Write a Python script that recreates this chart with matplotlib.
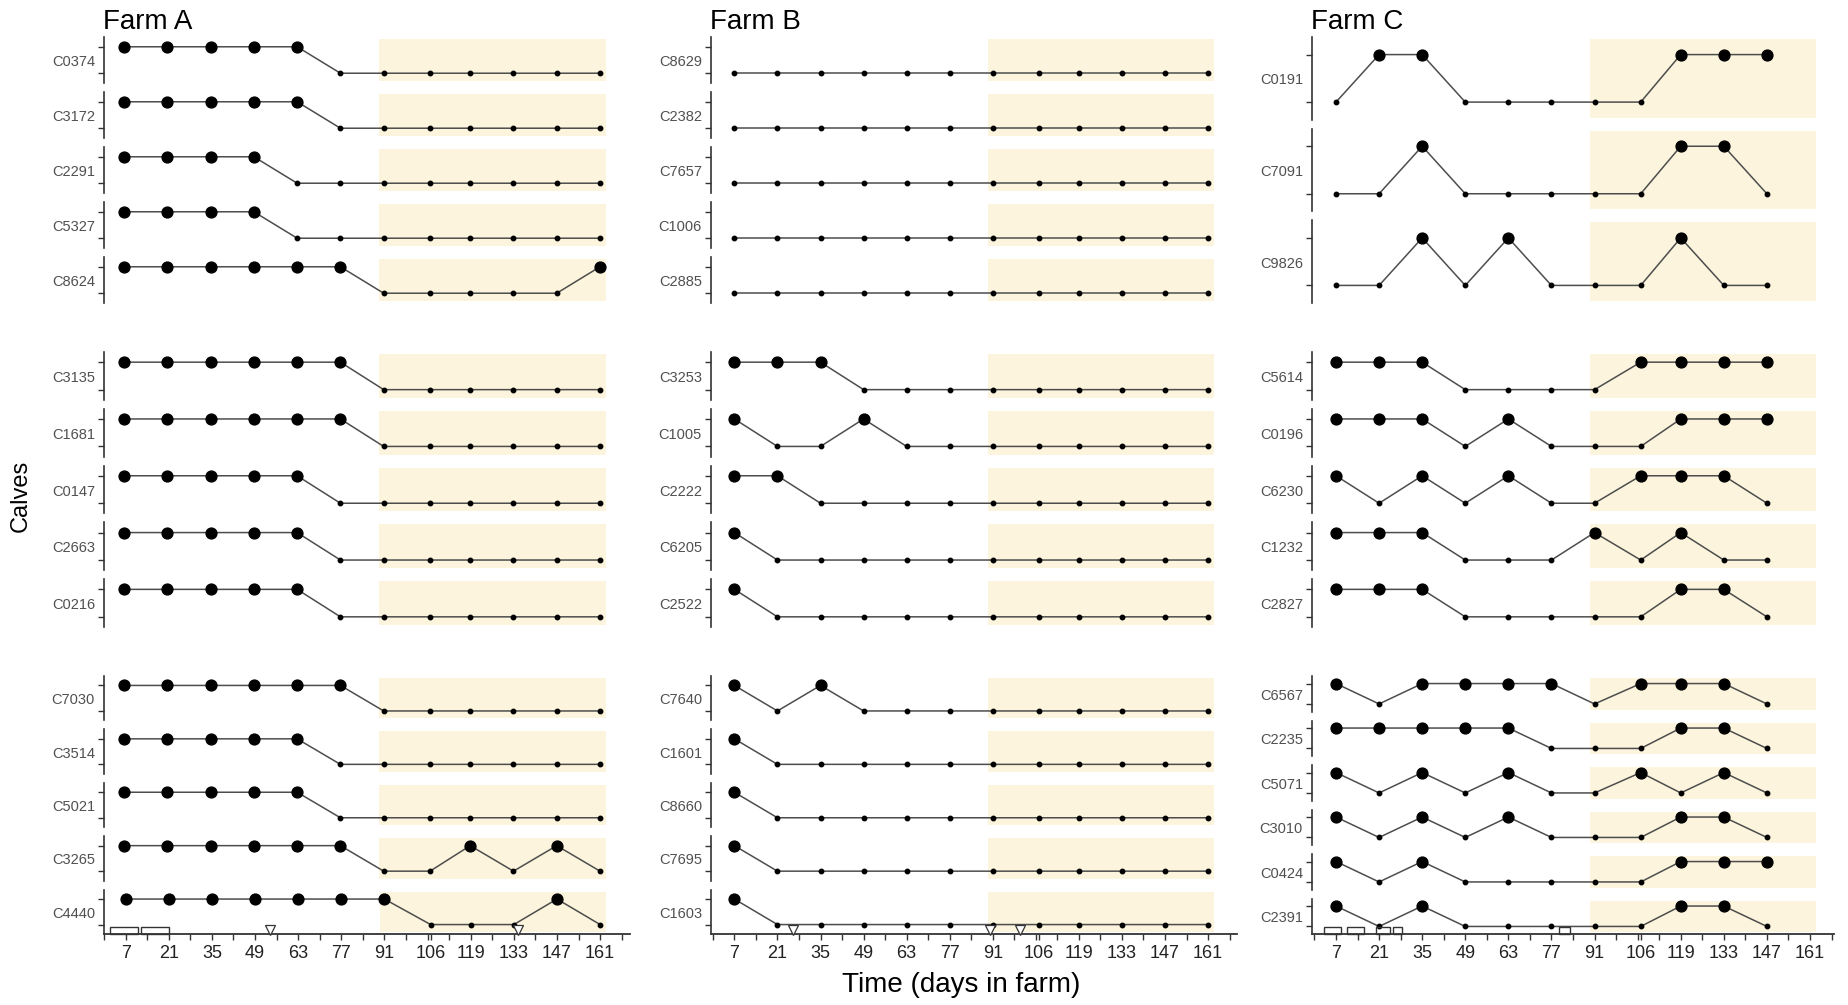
import numpy as np
import matplotlib
matplotlib.use("Agg")
import matplotlib.pyplot as plt
from matplotlib.transforms import blended_transform_factory, offset_copy
from matplotlib.patches import Rectangle

# ---------------- data ----------------
DAYS = [7, 21, 35, 49, 63, 77, 91, 106, 119, 133, 147, 161]
TICK_LABELS = ["7", "21", "35", "49", "63", "77", "91", "106", "119", "133", "147", "161"]

A_G1_CALVES = ["C0374", "C3172", "C2291", "C5327", "C8624"]
A_G1 = [[1, 1, 1, 1, 1, 0, 0, 0, 0, 0, 0, 0],
        [1, 1, 1, 1, 1, 0, 0, 0, 0, 0, 0, 0],
        [1, 1, 1, 1, 0, 0, 0, 0, 0, 0, 0, 0],
        [1, 1, 1, 1, 0, 0, 0, 0, 0, 0, 0, 0],
        [1, 1, 1, 1, 1, 1, 0, 0, 0, 0, 0, 1]]
A_G2_CALVES = ["C3135", "C1681", "C0147", "C2663", "C0216"]
A_G2 = [[1, 1, 1, 1, 1, 1, 0, 0, 0, 0, 0, 0],
        [1, 1, 1, 1, 1, 1, 0, 0, 0, 0, 0, 0],
        [1, 1, 1, 1, 1, 0, 0, 0, 0, 0, 0, 0],
        [1, 1, 1, 1, 1, 0, 0, 0, 0, 0, 0, 0],
        [1, 1, 1, 1, 1, 0, 0, 0, 0, 0, 0, 0]]
A_G3_CALVES = ["C7030", "C3514", "C5021", "C3265", "C4440"]
A_G3 = [[1, 1, 1, 1, 1, 1, 0, 0, 0, 0, 0, 0],
        [1, 1, 1, 1, 1, 0, 0, 0, 0, 0, 0, 0],
        [1, 1, 1, 1, 1, 0, 0, 0, 0, 0, 0, 0],
        [1, 1, 1, 1, 1, 1, 0, 0, 1, 0, 1, 0],
        [1, 1, 1, 1, 1, 1, 1, 0, 0, 0, 1, 0]]

B_G1_CALVES = ["C8629", "C2382", "C7657", "C1006", "C2885"]
B_G1 = [[0, 0, 0, 0, 0, 0, 0, 0, 0, 0, 0, 0],
        [0, 0, 0, 0, 0, 0, 0, 0, 0, 0, 0, 0],
        [0, 0, 0, 0, 0, 0, 0, 0, 0, 0, 0, 0],
        [0, 0, 0, 0, 0, 0, 0, 0, 0, 0, 0, 0],
        [0, 0, 0, 0, 0, 0, 0, 0, 0, 0, 0, 0]]
B_G2_CALVES = ["C3253", "C1005", "C2222", "C6205", "C2522"]
B_G2 = [[1, 1, 1, 0, 0, 0, 0, 0, 0, 0, 0, 0],
        [1, 0, 0, 1, 0, 0, 0, 0, 0, 0, 0, 0],
        [1, 1, 0, 0, 0, 0, 0, 0, 0, 0, 0, 0],
        [1, 0, 0, 0, 0, 0, 0, 0, 0, 0, 0, 0],
        [1, 0, 0, 0, 0, 0, 0, 0, 0, 0, 0, 0]]
B_G3_CALVES = ["C7640", "C1601", "C8660", "C7695", "C1603"]
B_G3 = [[1, 0, 1, 0, 0, 0, 0, 0, 0, 0, 0, 0],
        [1, 0, 0, 0, 0, 0, 0, 0, 0, 0, 0, 0],
        [1, 0, 0, 0, 0, 0, 0, 0, 0, 0, 0, 0],
        [1, 0, 0, 0, 0, 0, 0, 0, 0, 0, 0, 0],
        [1, 0, 0, 0, 0, 0, 0, 0, 0, 0, 0, 0]]

C_G1_CALVES = ["C0191", "C7091", "C9826"]
C_G1 = [[0, 1, 1, 0, 0, 0, 0, 0, 1, 1, 1],
        [0, 0, 1, 0, 0, 0, 0, 0, 1, 1, 0],
        [0, 0, 1, 0, 1, 0, 0, 0, 1, 0, 0]]
C_G2_CALVES = ["C5614", "C0196", "C6230", "C1232", "C2827"]
C_G2 = [[1, 1, 1, 0, 0, 0, 0, 1, 1, 1, 1],
        [1, 1, 1, 0, 1, 0, 0, 0, 1, 1, 1],
        [1, 0, 1, 0, 1, 0, 0, 1, 1, 1, 0],
        [1, 1, 1, 0, 0, 0, 1, 0, 1, 0, 0],
        [1, 1, 1, 0, 0, 0, 0, 0, 1, 1, 0]]
C_G3_CALVES = ["C6567", "C2235", "C5071", "C3010", "C0424", "C2391"]
C_G3 = [[1, 0, 1, 1, 1, 1, 0, 1, 1, 1, 0],
        [1, 1, 1, 1, 1, 0, 0, 0, 1, 1, 0],
        [1, 0, 1, 0, 1, 0, 0, 1, 0, 1, 0],
        [1, 0, 1, 0, 1, 0, 0, 0, 1, 1, 0],
        [1, 0, 1, 0, 0, 0, 0, 0, 1, 1, 1],
        [1, 0, 1, 0, 0, 0, 0, 0, 1, 1, 0]]

# events along the time axis (days)
A_RECTS = [(2, 11), (12, 21)]
A_TRIANGLES = [54, 134.5]
B_RECTS = []
B_TRIANGLES = [26, 90, 100]
C_RECTS = [(3, 8.5), (10.5, 16), (20, 24.5), (25.5, 28.5), (79.5, 83)]
C_TRIANGLES = []

SHADE_START, SHADE_END = 89.5, 163
FARM_TITLES = ["Farm A", "Farm B", "Farm C"]

# ---------------- layout / style ----------------
W, H = 1849, 1005
fig = plt.figure(figsize=(W / 100, H / 100), dpi=100)
fig.patch.set_facecolor("white")

SANS = ["Liberation Sans", "DejaVu Sans"]

COLS_PX = [(104, 630), (711, 1237), (1312, 1834)]
XLIMS = [(0.5, 170.7), (-0.6, 170.4), (-0.8, 168.8)]
GROUPS_PX = [(37, 303), (352, 627), (676, 934)]
GAP = 9
YLIM = (-0.37, 1.37)
SHADE = "#FCF4DC"
LINE_C = "#4d4d4d"

farms = [
    [(A_G1_CALVES, A_G1), (A_G2_CALVES, A_G2), (A_G3_CALVES, A_G3)],
    [(B_G1_CALVES, B_G1), (B_G2_CALVES, B_G2), (B_G3_CALVES, B_G3)],
    [(C_G1_CALVES, C_G1), (C_G2_CALVES, C_G2), (C_G3_CALVES, C_G3)],
]
events = [(A_RECTS, A_TRIANGLES), (B_RECTS, B_TRIANGLES), (C_RECTS, C_TRIANGLES)]


def add_ax(left, top, width, height):
    return fig.add_axes([left / W, 1 - (top + height) / H, width / W, height / H])


for fi, groups in enumerate(farms):
    x0, x1 = COLS_PX[fi]
    fig.text((x0 - 1) / W, 1 - 29 / H, FARM_TITLES[fi], fontsize=20, family=SANS,
             ha="left", va="baseline", color="black")
    for gi, (names, vals) in enumerate(groups):
        gtop, gbot = GROUPS_PX[gi]
        n = len(names)
        h = (gbot - gtop - (n - 1) * GAP) / n
        for ci, (name, v) in enumerate(zip(names, vals)):
            top = gtop + ci * (h + GAP)
            ax = add_ax(x0, top, x1 - x0, h)
            ax.set_xlim(*XLIMS[fi])
            ax.set_ylim(*YLIM)
            ax.patch.set_alpha(0)
            inset = 2.0 / h
            ax.axvspan(SHADE_START, SHADE_END, ymin=inset, ymax=1 - inset,
                       color=SHADE, lw=0, zorder=0)
            d = np.array(DAYS[:len(v)])
            v = np.array(v)
            ax.plot(d, v, color=LINE_C, lw=1.1, zorder=2)
            ax.plot(d[v == 1], v[v == 1], ls="none", marker="o", ms=7.8,
                    mfc="black", mec="black", zorder=3)
            ax.plot(d[v == 0], v[v == 0], ls="none", marker="o", ms=3.2,
                    mfc="black", mec="black", zorder=3)
            for s in ["top", "right"]:
                ax.spines[s].set_visible(False)
            ax.spines["left"].set_color("#333333")
            ax.spines["left"].set_linewidth(1.2)
            ax.set_yticks([0, 1])
            ax.set_yticklabels([])
            ax.tick_params(axis="y", length=4, width=1, color="#333333", direction="out")
            ax.text(0, 0.5, name,
                    transform=offset_copy(ax.transAxes, fig=fig, x=-9, y=-2, units="dots"),
                    ha="right", va="center", fontsize=10.5, family=SANS, color="#505050")
            last = (gi == 2 and ci == n - 1)
            if last:
                ax.spines["bottom"].set_color("#333333")
                ax.spines["bottom"].set_linewidth(1.3)
                ax.set_xticks(DAYS)
                ax.set_xticklabels(TICK_LABELS, fontsize=13, family=SANS, color="#222222")
                ax.set_xticks(np.arange(0, 170, 7), minor=True)
                ax.tick_params(axis="x", which="both", length=4, width=1, color="#333333",
                               direction="out", pad=4)
                rects, tris = events[fi]
                tr = blended_transform_factory(ax.transData, ax.transAxes)
                rh = 7.0 / h
                for (a, b) in rects:
                    ax.add_patch(Rectangle((a, 0), b - a, rh, transform=tr, fill=False,
                                           ec="#333333", lw=1.0, zorder=4, clip_on=False))
                for t in tris:
                    ax.plot([t], [4.0 / h], transform=tr, ls="none", marker="v", ms=6.5,
                            mfc="white", mec="#333333", mew=0.9, zorder=4, clip_on=False)
            else:
                ax.spines["bottom"].set_visible(False)
                ax.set_xticks([])

fig.text(21 / W, 1 - 496 / H, "Calves", rotation=90, fontsize=17, family=SANS,
         ha="center", va="center", color="black")
fig.text(961 / W, 1 - 985 / H, "Time (days in farm)", fontsize=20, family=SANS,
         ha="center", va="center", color="black")

fig.savefig("out.png", dpi=100, facecolor="white")
